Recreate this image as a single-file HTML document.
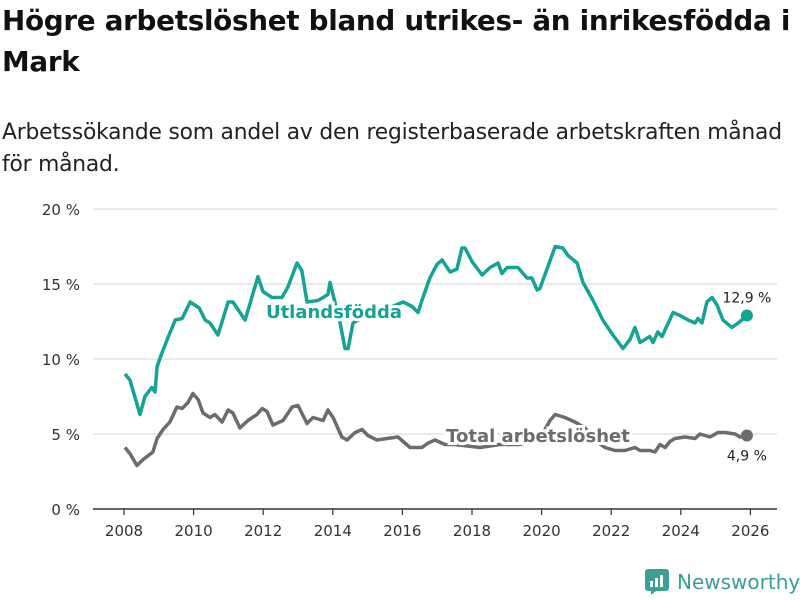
<!DOCTYPE html>
<html><head><meta charset="utf-8"><style>
body{margin:0;background:#fff;font-family:"Liberation Sans","DejaVu Sans",sans-serif;}
#wrap{position:relative;width:800px;height:600px;overflow:hidden;}
h1{position:absolute;left:2px;top:0px;margin:0;font-size:27.8px;line-height:41px;font-weight:bold;color:#111;width:798px;font-family:"DejaVu Sans","Liberation Sans",sans-serif;letter-spacing:-0.3px}
.sub{position:absolute;left:2px;top:117px;margin:0;font-size:21.8px;line-height:32px;color:#222;width:795px;font-family:"DejaVu Sans","Liberation Sans",sans-serif;letter-spacing:-0.2px}
svg{position:absolute;left:0;top:0}
</style></head><body><div id="wrap">
<h1>Högre arbetslöshet bland utrikes- än inrikesfödda i Mark</h1>
<p class="sub">Arbetssökande som andel av den registerbaserade arbetskraften månad för månad.</p>
<svg id="chart" width="800" height="600"></svg>
<div style="position:absolute;left:645px;top:568px;height:28px;display:flex;align-items:center;">
<svg width="24" height="26" style="position:static" viewBox="0 0 24 26"><rect x="0" y="0" width="24" height="22" rx="3" fill="#3a9e95"/><path d="M6 22 L6 26 L11 22Z" fill="#3a9e95"/><rect x="5" y="12" width="3" height="6" fill="#fff"/><rect x="10" y="9" width="3" height="9" fill="#fff"/><rect x="15" y="6" width="3" height="12" fill="#fff"/></svg>
<span style="margin-left:8px;font-size:20px;color:#3a9e95;font-family:'DejaVu Sans',sans-serif">Newsworthy</span></div>
</div>
<script>
const yTicks=[0,5,10,15,20];
const yTickLabels=["0 %","5 %","10 %","15 %","20 %"];
const xTicks=[2008,2010,2012,2014,2016,2018,2020,2022,2024,2026];
const utlDates=[2008.03,2008.17,2008.46,2008.60,2008.80,2008.89,2008.95,2009.09,2009.26,2009.47,2009.67,2009.90,2010.16,2010.33,2010.47,2010.70,2010.99,2011.13,2011.48,2011.85,2011.99,2012.25,2012.54,2012.71,2012.97,2013.11,2013.26,2013.57,2013.72,2013.86,2013.92,2014.21,2014.35,2014.44,2014.58,2014.9,2015.4,2016.02,2016.28,2016.45,2016.59,2016.79,2016.99,2017.14,2017.37,2017.57,2017.71,2017.80,2018.00,2018.29,2018.52,2018.75,2018.86,2019.01,2019.32,2019.58,2019.72,2019.87,2019.95,2020.39,2020.61,2020.76,2021.02,2021.19,2021.48,2021.76,2022.05,2022.34,2022.54,2022.68,2022.83,2023.11,2023.20,2023.34,2023.46,2023.78,2023.98,2024.21,2024.41,2024.49,2024.61,2024.75,2024.90,2025.04,2025.21,2025.47,2025.70,2025.90];
const utlValues=[9.0,8.6,6.3,7.5,8.1,7.8,9.5,10.4,11.4,12.6,12.7,13.8,13.4,12.6,12.4,11.6,13.8,13.8,12.6,15.5,14.5,14.1,14.1,14.8,16.4,15.9,13.8,13.9,14.1,14.3,15.1,12.4,10.7,10.7,12.4,12.8,13.2,13.8,13.5,13.1,14.1,15.4,16.3,16.6,15.8,16.0,17.4,17.4,16.5,15.6,16.1,16.4,15.7,16.1,16.1,15.4,15.4,14.6,14.7,17.5,17.4,16.9,16.4,15.1,13.9,12.6,11.6,10.7,11.3,12.1,11.1,11.5,11.1,11.8,11.5,13.1,12.9,12.6,12.4,12.7,12.4,13.8,14.1,13.6,12.6,12.1,12.5,12.9];
const totDates=[2008.03,2008.17,2008.37,2008.55,2008.83,2008.95,2009.12,2009.32,2009.52,2009.67,2009.84,2009.98,2010.13,2010.27,2010.47,2010.61,2010.82,2010.99,2011.13,2011.33,2011.56,2011.82,2011.97,2012.11,2012.28,2012.57,2012.83,2013.00,2013.26,2013.43,2013.72,2013.86,2014.01,2014.26,2014.41,2014.64,2014.84,2015.01,2015.27,2015.56,2015.87,2016.22,2016.56,2016.74,2016.94,2017.22,2017.51,2018.23,2018.80,2019.38,2019.95,2020.24,2020.39,2020.67,2020.96,2021.25,2021.53,2021.82,2022.11,2022.40,2022.68,2022.83,2023.11,2023.26,2023.40,2023.55,2023.69,2023.83,2024.12,2024.41,2024.55,2024.84,2025.07,2025.27,2025.56,2025.70,2025.90];
const totValues=[4.1,3.7,2.9,3.3,3.8,4.7,5.3,5.8,6.8,6.7,7.1,7.7,7.3,6.4,6.1,6.3,5.8,6.6,6.4,5.4,5.9,6.3,6.7,6.5,5.6,5.9,6.8,6.9,5.7,6.1,5.9,6.6,6.1,4.8,4.6,5.1,5.3,4.9,4.6,4.7,4.8,4.1,4.1,4.4,4.6,4.3,4.3,4.1,4.3,4.3,4.7,5.9,6.3,6.1,5.8,5.4,4.6,4.1,3.9,3.9,4.1,3.9,3.9,3.8,4.3,4.1,4.5,4.7,4.8,4.7,5.0,4.8,5.1,5.1,5.0,4.8,4.9];

const NS="http://www.w3.org/2000/svg";
const svg=document.getElementById('chart');
const X0=93,X1=777,Y0=509,Y20=209;
const xs=v=>124+(v-2008)*34.8;
const ys=v=>Y0-(v/20)*(Y0-Y20);
function mk(t,a){const e=document.createElementNS(NS,t);for(const k in a)e.setAttribute(k,a[k]);svg.appendChild(e);return e;}
yTicks.forEach((t,i)=>{
 const g=mk('line',{x1:X0,x2:X1,y1:ys(t),y2:ys(t),stroke:t===0?'#333':'#ddd','stroke-width':t===0?1.5:1.2});
 
 
 const l=mk('text',{x:80,y:ys(t)+6,'text-anchor':'end','font-size':15,fill:'#333','font-family':'DejaVu Sans,sans-serif'});
 l.textContent=yTickLabels[i];
 
 
});
xTicks.forEach(t=>{
 const k=mk('line',{x1:xs(t),x2:xs(t),y1:Y0,y2:Y0+6,stroke:'#333','stroke-width':1.2});
 
 
 const l=mk('text',{x:xs(t),y:Y0+27,'text-anchor':'middle','font-size':15,fill:'#333','font-family':'DejaVu Sans,sans-serif'});
 l.textContent=t;
 
 
});
function line(d,v,c,name){
 const p=mk('path',{d:d.map((x,i)=>(i?'L':'M')+xs(x).toFixed(1)+','+ys(v[i]).toFixed(1)).join(''),fill:'none',stroke:c,'stroke-width':3.5,'stroke-linejoin':'round'});
 
 
 const n=d.length-1;
 const c2=mk('circle',{cx:xs(d[n]),cy:ys(v[n]),r:6,fill:c});
 
 
 return [xs(d[n]),ys(v[n])];
}
const pt=line(totDates,totValues,'#6b6b70','total-line');
const pu=line(utlDates,utlValues,'#14a394','utlandsfodda-line');
function lab(x,y,txt,c,name,size,bold,anchor){
 const t=mk('text',{x:x,y:y,'text-anchor':anchor,'font-size':size,'font-weight':bold?'bold':'normal',fill:c,stroke:'#fff','stroke-width':bold?6:4,'paint-order':'stroke','font-family':'DejaVu Sans,sans-serif'});
 t.textContent=txt;
 
 
}
lab(334,318,'Utlandsfödda','#14a394','series-label-utlandsfodda',18,true,'middle');
lab(538,442,'Total arbetslöshet','#6b6b70','series-label-total',18,true,'middle');
lab(pu[0],pu[1]-13,'12,9 %','#222','end-value-utlandsfodda',14,false,'middle');
lab(pt[0],pt[1]+25,'4,9 %','#222','end-value-total',14,false,'middle');
</script></body></html>
